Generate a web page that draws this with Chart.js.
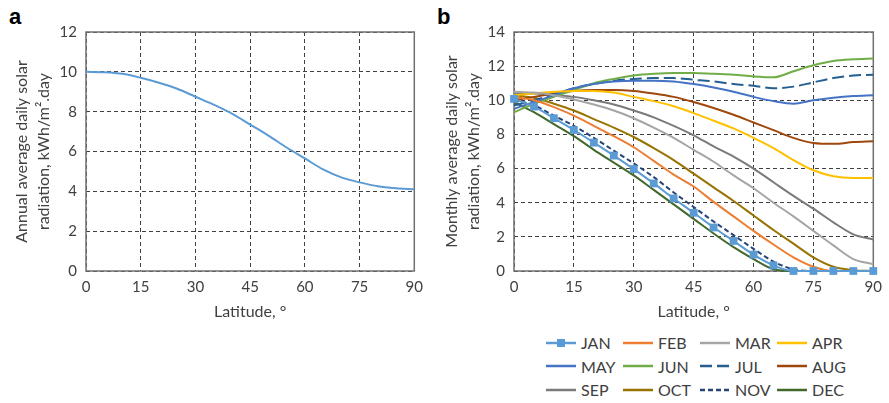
<!DOCTYPE html>
<html>
<head>
<meta charset="utf-8">
<script src="https://cdn.jsdelivr.net/npm/chart.js@4/dist/chart.umd.min.js"></script>
<style>
body { margin: 0; background: #fff; width: 889px; height: 403px; position: relative; overflow: hidden; font-family: Lato, sans-serif; color: #404040; }
#wrapA { position: absolute; left: 0; top: 0; width: 430px; height: 330px; }
#wrapB { position: absolute; left: 430px; top: 0; width: 459px; height: 330px; }
.panel { position: absolute; font-family: "Liberation Sans", Arial, sans-serif; font-weight: bold; font-size: 22px; line-height: 22px; color: #000; }
#legend { position: absolute; left: 546px; top: 331px; display: grid; grid-template-columns: repeat(4, 77px); }
.item { display: flex; align-items: center; height: 23.5px; font-size: 16px; white-space: nowrap; }
.item svg { margin-right: 5px; }
</style>
</head>
<body>
<div class="panel" style="left:9px;top:6px">a</div>
<div class="panel" style="left:437px;top:6px">b</div>
<div id="wrapA"><canvas id="chartA" width="430" height="330"></canvas></div>
<div id="wrapB"><canvas id="chartB" width="459" height="330"></canvas></div>
<div id="legend"></div>

<script>
// Latitudes (degrees), one value every 5 degrees
const latitudes = [0, 5, 10, 15, 20, 25, 30, 35, 40, 45, 50, 55, 60, 65, 70, 75, 80, 85, 90];

// Panel a: annual average daily solar radiation
const annual = [10.0, 9.98, 9.9, 9.7, 9.45, 9.15, 8.75, 8.35, 7.9, 7.35, 6.8, 6.2, 5.65, 5.1, 4.7, 4.45, 4.25, 4.15, 4.1];

// Panel b: monthly average daily solar radiation
const months = ['JAN', 'FEB', 'MAR', 'APR', 'MAY', 'JUN', 'JUL', 'AUG', 'SEP', 'OCT', 'NOV', 'DEC'];
const jan = [10.08, 9.63, 8.95, 8.26, 7.52, 6.76, 5.97, 5.13, 4.25, 3.41, 2.55, 1.76, 0.96, 0.33, 0, 0, 0, 0, 0];
const feb = [10.2, 10.0, 9.6, 9.1, 8.5, 7.9, 7.25, 6.45, 5.65, 4.95, 4.05, 3.2, 2.35, 1.55, 0.8, 0.25, 0, 0, 0];
const mar = [10.5, 10.45, 10.3, 10.05, 9.75, 9.4, 8.95, 8.4, 7.8, 7.1, 6.4, 5.6, 4.85, 4.0, 3.2, 2.35, 1.5, 0.7, 0.4];
const apr = [10.3, 10.4, 10.5, 10.55, 10.55, 10.45, 10.2, 9.95, 9.65, 9.25, 8.8, 8.35, 7.8, 7.2, 6.5, 5.9, 5.55, 5.45, 5.45];
const may = [9.5, 9.9, 10.3, 10.7, 10.95, 11.1, 11.15, 11.15, 11.1, 10.95, 10.75, 10.5, 10.2, 9.95, 9.8, 10.0, 10.15, 10.25, 10.3];
const jun = [9.3, 9.8, 10.2, 10.6, 11.0, 11.25, 11.45, 11.55, 11.6, 11.6, 11.55, 11.5, 11.4, 11.35, 11.7, 12.05, 12.3, 12.4, 12.45];
const jul = [9.7, 10.0, 10.35, 10.7, 10.95, 11.15, 11.25, 11.3, 11.3, 11.2, 11.1, 10.95, 10.85, 10.7, 10.8, 11.05, 11.3, 11.45, 11.5];
const aug = [10.0, 10.2, 10.4, 10.55, 10.6, 10.6, 10.55, 10.4, 10.2, 9.9, 9.55, 9.15, 8.7, 8.25, 7.8, 7.5, 7.45, 7.55, 7.6];
const sep = [10.4, 10.4, 10.3, 10.2, 10.0, 9.75, 9.4, 9.0, 8.5, 7.95, 7.3, 6.7, 6.0, 5.2, 4.4, 3.65, 2.85, 2.15, 1.85];
const oct = [10.3, 10.15, 9.8, 9.4, 8.9, 8.4, 7.85, 7.2, 6.5, 5.7, 4.9, 4.1, 3.25, 2.4, 1.6, 0.8, 0.25, 0.05, 0];
const nov = [10.0, 9.7, 9.1, 8.5, 7.8, 7.05, 6.3, 5.5, 4.6, 3.75, 2.9, 2.1, 1.3, 0.55, 0.1, 0, 0, 0, 0];
const dec = [9.9, 9.3, 8.6, 7.9, 7.1, 6.35, 5.6, 4.75, 3.9, 3.05, 2.2, 1.4, 0.7, 0.1, 0, 0, 0, 0, 0];

const monthValues = [jan, feb, mar, apr, may, jun, jul, aug, sep, oct, nov, dec];
const monthColors = ['#5B9BD5', '#ED7D31', '#A5A5A5', '#FFC000', '#4472C4', '#70AD47',
                     '#255E91', '#9E480E', '#7A7A7A', '#997300', '#264478', '#43682B'];
const monthDash = [[], [], [], [], [], [], [12, 5], [], [], [], [5, 3], []];

const textColor = '#404040';
Chart.defaults.font.family = 'Lato, sans-serif';

function toPoints(values) {
    return values.map((v, i) => ({ x: latitudes[i], y: v }));
}

// Draw a solid frame around the plot area
const framePlugin = {
    id: 'frame',
    beforeDatasetsDraw(chart) {
        const { ctx, chartArea: a } = chart;
        ctx.save();
        ctx.strokeStyle = '#707070';
        ctx.lineWidth = 1.5;
        ctx.strokeRect(a.left, a.top, a.right - a.left, a.bottom - a.top);
        ctx.restore();
    }
};

function makeScales(yMax, yTitle, yWidth) {
    return {
        x: {
            type: 'linear', min: 0, max: 90,
            ticks: { stepSize: 15, padding: 7, color: textColor, font: { size: 15 } },
            grid: { color: '#404040', drawTicks: false },
            border: { display: false, dash: [4, 3] },
            title: { display: true, text: 'Latitude, °', color: textColor, font: { size: 16 }, padding: { top: 4, bottom: 0 } },
            afterFit: scale => { scale.height = 50; }
        },
        y: {
            min: 0, max: yMax,
            ticks: { stepSize: 2, padding: 9, color: textColor, font: { size: 15 } },
            grid: { color: '#404040', drawTicks: false },
            border: { display: false, dash: [4, 3] },
            title: { display: true, text: yTitle, color: textColor, font: { size: 16, lineHeight: 1.35 }, padding: { top: 11, bottom: 0 } },
            afterFit: scale => { scale.width = yWidth; }
        }
    };
}

// Panel a
new Chart(document.getElementById('chartA').getContext('2d'), {
    type: 'line',
    data: {
        datasets: [{
            label: 'Annual',
            data: toPoints(annual),
            borderColor: '#5B9BD5',
            borderWidth: 2,
            pointRadius: 0,
            cubicInterpolationMode: 'monotone'
        }]
    },
    options: {
        responsive: false,
        animation: false,
        layout: { padding: { left: 0, top: 32, right: 15, bottom: 9 } },
        scales: makeScales(12, ['Annual average daily solar', 'radiation, kWh/m².day'], 86),
        plugins: { legend: { display: false }, tooltip: { enabled: false } }
    },
    plugins: [framePlugin]
});

// Panel b
new Chart(document.getElementById('chartB').getContext('2d'), {
    type: 'line',
    data: {
        datasets: months.map((m, i) => ({
            label: m,
            data: toPoints(monthValues[i]),
            borderColor: monthColors[i],
            backgroundColor: monthColors[i],
            borderWidth: 2,
            borderDash: monthDash[i],
            pointRadius: m === 'JAN' ? 5.5 : 0,
            pointStyle: 'rect',
            pointBorderWidth: 0,
            clip: false,
            cubicInterpolationMode: 'monotone'
        }))
    },
    options: {
        responsive: false,
        animation: false,
        layout: { padding: { left: 0, top: 32, right: 10, bottom: 9 } },
        scales: makeScales(14, ['Monthly average daily solar', 'radiation, kWh/m².day'], 84),
        plugins: { legend: { display: false }, tooltip: { enabled: false } }
    },
    plugins: [framePlugin]
});

// Legend for panel b
const legend = document.getElementById('legend');
months.forEach((m, i) => {
    const dash = monthDash[i].length ? ` stroke-dasharray="${monthDash[i].join(',')}"` : '';
    const marker = m === 'JAN' ? `<rect x="11" y="4" width="8" height="8" fill="${monthColors[i]}"/>` : '';
    const item = document.createElement('div');
    item.className = 'item';
    item.innerHTML = `<svg width="30" height="16"><line x1="0" y1="8" x2="30" y2="8" stroke="${monthColors[i]}" stroke-width="2.5"${dash}/>${marker}</svg>${m}`;
    legend.appendChild(item);
});
</script>
</body>
</html>
